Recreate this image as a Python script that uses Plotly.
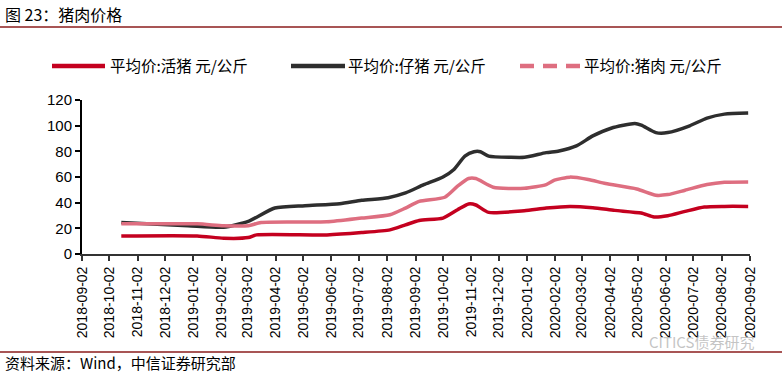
import plotly.graph_objects as go

# ---- data ----
live_dates = ["2018-10-15", "2019-01-06", "2019-02-04", "2019-03-03", "2019-03-12", "2019-05-28",
              "2019-07-05", "2019-08-05", "2019-08-22", "2019-09-06", "2019-10-02", "2019-10-18",
              "2019-10-30", "2019-11-07", "2019-11-21", "2019-12-30", "2020-01-23", "2020-02-18",
              "2020-03-14", "2020-04-07", "2020-05-06", "2020-05-20", "2020-06-04", "2020-06-23",
              "2020-07-14", "2020-08-05", "2020-08-31"]
live_vals = [14.1, 14.1, 12.3, 12.8, 14.9, 14.9, 16.7, 18.8, 22.7, 26.1, 28.0, 34.5, 39.0, 38.2,
             32.4, 33.7, 35.8, 37.1, 36.1, 34.0, 31.9, 28.8, 29.8, 33.2, 36.6, 37.1, 37.1]

piglet_dates = ["2018-10-15", "2018-12-27", "2019-02-04", "2019-03-03", "2019-04-01", "2019-05-04",
                "2019-06-11", "2019-07-05", "2019-08-03", "2019-08-22", "2019-09-11", "2019-10-02",
                "2019-10-14", "2019-10-26", "2019-11-05", "2019-11-12", "2019-11-21", "2019-12-15",
                "2019-12-30", "2020-01-23", "2020-02-06", "2020-02-25", "2020-03-14", "2020-04-03",
                "2020-04-29", "2020-05-06", "2020-05-22", "2020-06-04", "2020-06-28", "2020-07-17",
                "2020-08-05", "2020-08-31"]
piglet_vals = [24.6, 22.0, 20.9, 25.4, 35.8, 37.6, 39.2, 41.8, 43.9, 47.6, 54.0, 60.0, 65.9, 76.3,
               79.7, 79.7, 76.3, 75.3, 75.3, 79.0, 80.3, 84.2, 92.0, 98.0, 101.7, 100.4, 94.6,
               94.6, 99.9, 105.9, 109.0, 109.8]

pork_dates = ["2018-10-15", "2019-01-06", "2019-02-04", "2019-03-03", "2019-03-17", "2019-05-28",
              "2019-07-05", "2019-08-05", "2019-08-22", "2019-09-06", "2019-10-04", "2019-10-18",
              "2019-10-30", "2019-11-07", "2019-11-26", "2019-12-30", "2020-01-23", "2020-02-01",
              "2020-02-18", "2020-03-09", "2020-03-28", "2020-05-01", "2020-05-22", "2020-06-04",
              "2020-06-23", "2020-07-17", "2020-08-05", "2020-08-31"]
pork_vals = [23.5, 23.5, 22.0, 22.0, 24.6, 25.1, 28.0, 30.6, 35.8, 41.0, 44.2, 52.8, 58.8, 58.8,
             52.0, 51.2, 54.1, 57.5, 59.9, 58.0, 54.9, 50.7, 45.8, 46.3, 49.7, 54.1, 55.9, 56.2]

tick_dates = ["2018-09-02", "2018-10-02", "2018-11-02", "2018-12-02", "2019-01-02", "2019-02-02",
              "2019-03-02", "2019-04-02", "2019-05-02", "2019-06-02", "2019-07-02", "2019-08-02",
              "2019-09-02", "2019-10-02", "2019-11-02", "2019-12-02", "2020-01-02", "2020-02-02",
              "2020-03-02", "2020-04-02", "2020-05-02", "2020-06-02", "2020-07-02", "2020-08-02",
              "2020-09-02"]

names = ["平均价:活猪 元/公斤", "平均价:仔猪 元/公斤", "平均价:猪肉 元/公斤"]
RED = "#C4001F"
BLACK = "#2E2E2E"
PINK = "#DE6E80"
colors = [RED, BLACK, PINK]

FONT = "Liberation Sans, Arial, Noto Sans CJK SC, sans-serif"
CJK = "Noto Sans CJK SC, Liberation Sans, sans-serif"

fig = go.Figure()
series = [(live_dates, live_vals), (piglet_dates, piglet_vals), (pork_dates, pork_vals)]
for (xs, ys), nm, col in zip(series, names, colors):
    fig.add_trace(go.Scatter(x=xs, y=ys, mode="lines", name=nm, showlegend=False,
                             line=dict(color=col, width=3.5, shape="spline", smoothing=0.6)))
# legend text entries (samples drawn as longer lines below)
for i, nm in enumerate(names):
    fig.add_trace(go.Scatter(x=[None], y=[None], mode="lines", name=nm,
                             legend="legend" if i == 0 else f"legend{i + 1}",
                             line=dict(color="rgba(0,0,0,0)", width=0)))

W, H = 782, 375
L, T = 82, 100
R = W - 750
B = H - 254
pw, ph = W - L - R, H - T - B

def px(x):
    return (x - L) / pw

def py(y):
    return (H - B - y) / ph

def leg(xwin):
    return dict(orientation="h", x=px(xwin), y=py(66), xanchor="left", yanchor="middle",
                font=dict(family=CJK, size=15.5, color="black"), bgcolor="rgba(0,0,0,0)")

fig.update_layout(
    width=W, height=H,
    margin=dict(l=L, r=R, t=T, b=B),
    paper_bgcolor="white", plot_bgcolor="white",
    font=dict(family=FONT, color="black"),
    showlegend=True,
    legend=leg(70), legend2=leg(308), legend3=leg(544),
    xaxis=dict(type="date", range=["2018-09-02", "2020-09-02"],
               tickmode="array", tickvals=tick_dates, ticktext=tick_dates,
               tickangle=-90, tickfont=dict(size=14, family=FONT, color="black"),
               showgrid=False, zeroline=False,
               showline=True, linecolor="#333333", linewidth=2,
               ticks="outside", ticklen=5, tickcolor="#333333", tickwidth=1.5),
    yaxis=dict(range=[0, 120], tickmode="linear", dtick=20, tick0=0,
               tickfont=dict(size=15, family=FONT, color="black"),
               showgrid=False, zeroline=False,
               showline=True, linecolor="black", linewidth=2,
               ticks="outside", ticklen=5, tickcolor="black", tickwidth=1.5),
)

# legend sample lines
samples = [(52, 105, "solid"), (291, 345, "solid"), (520, 580, "14px,9px")]
for (x0, x1, dash), col in zip(samples, colors):
    fig.add_shape(type="line", xref="paper", yref="paper", x0=px(x0), x1=px(x1), y0=py(66), y1=py(66),
                  line=dict(color=col, width=4.5, dash=dash))

fig.add_annotation(text="图 23：猪肉价格", xref="paper", yref="paper", x=px(3), y=py(0),
                   xanchor="left", yanchor="top", showarrow=False,
                   font=dict(family=CJK, size=16, color="black"))
fig.add_annotation(text="资料来源：Wind，中信证券研究部", xref="paper", yref="paper", x=px(3), y=py(375),
                   xanchor="left", yanchor="bottom", showarrow=False,
                   font=dict(family=CJK, size=15, color="black"))
fig.add_annotation(text="CITICS债券研究", xref="paper", yref="paper", x=px(756), y=py(341),
                   xanchor="right", yanchor="middle", showarrow=False,
                   font=dict(family=CJK, size=15, color="rgba(170,170,170,0.7)"))
fig.add_shape(type="line", xref="paper", yref="paper", x0=px(0), x1=px(782), y0=py(27), y1=py(27),
              line=dict(color="#8B1C1C", width=1.5))
fig.add_shape(type="line", xref="paper", yref="paper", x0=px(0), x1=px(782), y0=py(352), y1=py(352),
              line=dict(color="#8B1C1C", width=1.5))

# remove the default 8px page margin so the figure sits at the window's top-left corner
fig.write_html("out.html", config={"displayModeBar": False},
               post_script="document.body.style.margin='0';")
